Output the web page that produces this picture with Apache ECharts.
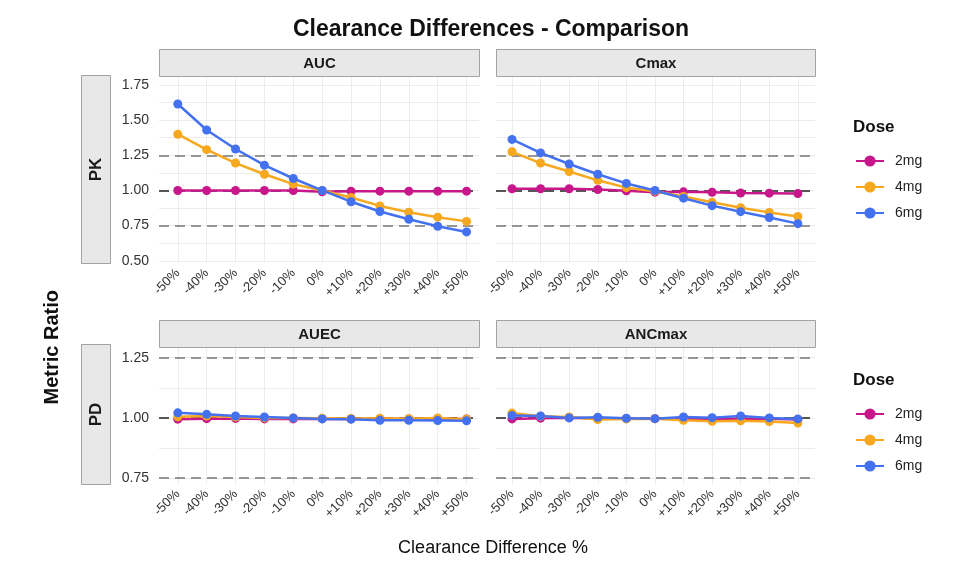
<!DOCTYPE html>
<html>
<head>
<meta charset="utf-8">
<title>Clearance Differences - Comparison</title>
<script src="https://cdn.jsdelivr.net/npm/echarts@6/dist/echarts.min.js"></script>
<style>
  html, body { margin: 0; padding: 0; background: #fff; }
  #chart { width: 960px; height: 576px; }
</style>
</head>
<body>
<div id="chart"></div>
<script>
// x categories (clearance difference)
var categories = ['-50%', '-40%', '-30%', '-20%', '-10%', '0%', '+10%', '+20%', '+30%', '+40%', '+50%']
var doses = ['2mg', '4mg', '6mg']

// PK - AUC
var auc2 = [1.00, 1.00, 1.00, 1.00, 1.00, 0.99, 0.995, 0.995, 0.995, 0.995, 0.995]
var auc4 = [1.40, 1.29, 1.195, 1.115, 1.045, 1.00, 0.95, 0.89, 0.845, 0.81, 0.78]
var auc6 = [1.615, 1.43, 1.295, 1.18, 1.085, 1.00, 0.92, 0.85, 0.795, 0.745, 0.705]
// PK - Cmax
var cmax2 = [1.012, 1.012, 1.012, 1.007, 0.998, 0.988, 0.99, 0.987, 0.982, 0.981, 0.978]
var cmax4 = [1.275, 1.195, 1.135, 1.072, 1.02, 0.995, 0.957, 0.916, 0.877, 0.844, 0.815]
var cmax6 = [1.363, 1.267, 1.188, 1.115, 1.05, 1.00, 0.945, 0.892, 0.849, 0.808, 0.764]
// PD - AUEC
var auec2 = [0.995, 0.997, 0.998, 0.996, 0.996, 0.997, 0.996, 0.996, 0.996, 0.997, 0.996]
var auec4 = [1.005, 1.008, 1.004, 1.00, 1.00, 0.999, 0.998, 0.999, 0.997, 1.00, 0.995]
var auec6 = [1.021, 1.015, 1.008, 1.004, 1.00, 0.996, 0.995, 0.99, 0.99, 0.989, 0.988]
// PD - ANCmax
var anc2 = [0.996, 0.999, 1.001, 0.998, 0.997, 0.997, 0.998, 0.997, 0.997, 0.997, 0.993]
var anc4 = [1.02, 1.007, 1.004, 0.993, 0.996, 0.997, 0.99, 0.986, 0.988, 0.985, 0.979]
var anc6 = [1.01, 1.008, 1.00, 1.003, 0.999, 0.997, 1.004, 1.001, 1.008, 1.00, 0.996]

// y tick labels per row
var pkTicks = [0.5, 0.75, 1.0, 1.25, 1.5, 1.75]
var pkMinor = [0.625, 0.875, 1.125, 1.375, 1.625]
var pdTicks = [0.75, 1.0, 1.25]
var pdMinor = [0.875, 1.125]
// dashed reference lines
var refOuter = [0.75, 1.25]
var refMid = 1.0

var colors = ['#c8178a', '#f6a81f', '#4471ef']

// panel layout (ggplot facet_grid look)
var panels = [
  { name: 'AUC', data: [auc2, auc4, auc6], left: 159, width: 320, top: 77, height: 186, xmin: -0.65, xmax: 10.43, ymin: 0.484, ymax: 1.807, ticks: pkTicks, minor: pkMinor },
  { name: 'Cmax', data: [cmax2, cmax4, cmax6], left: 496, width: 319, top: 77, height: 186, xmin: -0.56, xmax: 10.6, ymin: 0.484, ymax: 1.807, ticks: pkTicks, minor: pkMinor, hideY: true },
  { name: 'AUEC', data: [auec2, auec4, auec6], left: 159, width: 320, top: 348, height: 136, xmin: -0.65, xmax: 10.43, ymin: 0.726, ymax: 1.29, ticks: pdTicks, minor: pdMinor },
  { name: 'ANCmax', data: [anc2, anc4, anc6], left: 496, width: 319, top: 348, height: 136, xmin: -0.56, xmax: 10.6, ymin: 0.726, ymax: 1.29, ticks: pdTicks, minor: pdMinor, hideY: true }
]

var catIdx = categories.map(function (c, i) { return i })

var grid = [], xAxis = [], yAxis = [], series = [], graphic = []

panels.forEach(function (p, pi) {
  grid.push({ left: p.left, top: p.top, width: p.width, height: p.height, containLabel: false })
  xAxis.push({
    type: 'value', gridIndex: pi, min: p.xmin, max: p.xmax,
    axisLine: { show: false },
    axisTick: { show: false, customValues: catIdx },
    axisLabel: {
      customValues: catIdx, rotate: 45, margin: 8,
      color: '#333', fontSize: 13, fontFamily: 'Liberation Sans',
      formatter: function (v) { return categories[Math.round(v)] }
    },
    splitLine: { show: true, lineStyle: { color: '#ececec', width: 1 } }
  })
  yAxis.push({
    type: 'value', gridIndex: pi, min: p.ymin, max: p.ymax,
    axisLine: { show: false },
    axisTick: { show: false, customValues: p.ticks.concat(p.minor) },
    axisLabel: {
      show: !p.hideY, customValues: p.ticks, margin: 10,
      color: '#333', fontSize: 14, fontFamily: 'Liberation Sans',
      formatter: function (v) { return v.toFixed(2) }
    },
    splitLine: { show: true, lineStyle: { color: '#ececec', width: 1 } }
  })

  doses.forEach(function (d, di) {
    var s = {
      type: 'line', name: d, xAxisIndex: pi, yAxisIndex: pi,
      data: p.data[di].map(function (v, i) { return [i, v] }),
      symbol: 'circle', symbolSize: 9,
      color: colors[di],
      lineStyle: { width: 2.5 },
      animation: false
    }
    if (di === 0) {
      s.markLine = {
        silent: true, symbol: 'none', label: { show: false },
        animation: false, z: 1,
        data: refOuter.map(function (v) {
          return { yAxis: v, lineStyle: { color: '#777', type: [10, 6], width: 1.6 } }
        }).concat([{ yAxis: refMid, lineStyle: { color: '#222', type: [10, 6], width: 1.6 } }])
      }
    }
    series.push(s)
  })

  // top strip label
  graphic.push({
    type: 'group', left: p.left, top: p.top - 28,
    children: [
      { type: 'rect', shape: { width: p.width, height: 27 }, style: { fill: '#e8e8e8', stroke: '#a2a2a2', lineWidth: 1 } },
      { type: 'text', x: p.width / 2, y: 14, style: { text: p.name, fill: '#1a1a1a', font: 'bold 15px "Liberation Sans"', align: 'center', verticalAlign: 'middle' } }
    ]
  })
})

// row strips (PK / PD) on the left
var rows = [{ name: 'PK', top: 75, height: 188 }, { name: 'PD', top: 344, height: 140 }]
rows.forEach(function (r) {
  graphic.push({
    type: 'group', left: 81, top: r.top,
    children: [
      { type: 'rect', shape: { width: 29, height: r.height }, style: { fill: '#e8e8e8', stroke: '#a2a2a2', lineWidth: 1 } },
      { type: 'text', x: 15, y: r.height / 2, rotation: Math.PI / 2, style: { text: r.name, fill: '#1a1a1a', font: 'bold 17px "Liberation Sans"', align: 'center', verticalAlign: 'middle' } }
    ]
  })
})

// legend titles
;[119, 372].forEach(function (t) {
  graphic.push({ type: 'text', left: 853, top: t, style: { text: 'Dose', fill: '#111', font: 'bold 17px "Liberation Sans"' } })
})
// axis titles
graphic.push({ type: 'text', left: 42, top: 290, rotation: Math.PI / 2, style: { text: 'Metric Ratio', fill: '#111', font: 'bold 20px "Liberation Sans"', align: 'center', verticalAlign: 'middle' } })

var legendBase = {
  orient: 'vertical', left: 850, itemWidth: 28, itemHeight: 14, itemGap: 12,
  data: doses,
  textStyle: { fontSize: 14, color: '#222', fontFamily: 'Liberation Sans', padding: [0, 0, 0, 6] },
  selectedMode: false
}

var myChart = echarts.init(document.getElementById('chart'), null, { renderer: 'canvas' })
myChart.setOption({
  backgroundColor: '#fff',
  animation: false,
  title: [
    { text: 'Clearance Differences - Comparison', left: 486, top: 13, textAlign: 'center', textStyle: { fontSize: 23, fontWeight: 'bold', color: '#111', fontFamily: 'Liberation Sans' } },
    { text: 'Clearance Difference %', left: 488, top: 534, textAlign: 'center', textStyle: { fontSize: 18, fontWeight: 'normal', color: '#111', fontFamily: 'Liberation Sans' } }
  ],
  legend: [
    Object.assign({}, legendBase, { top: 149 }),
    Object.assign({}, legendBase, { top: 402 })
  ],
  grid: grid,
  xAxis: xAxis,
  yAxis: yAxis,
  series: series,
  graphic: graphic
})
</script>
</body>
</html>
